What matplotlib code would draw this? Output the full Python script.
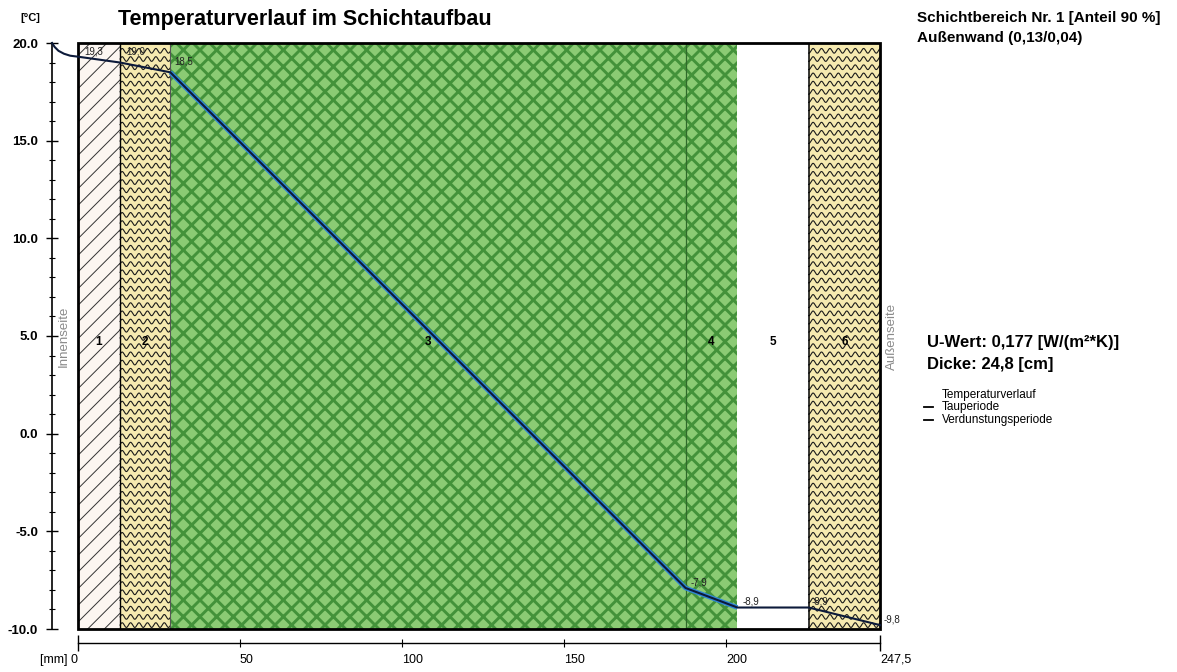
import numpy as np
import matplotlib
matplotlib.use('Agg')
import matplotlib.pyplot as plt
from matplotlib.patches import Rectangle

plt.rcParams['font.family'] = ['Liberation Sans', 'DejaVu Sans']

# layer boundaries [mm] and layer styles
layer_edges = [0, 13, 28.5, 187.5, 203.5, 225.5, 247.5]
layer_names = ['1', '2', '3', '4', '5', '6']
layer_kind = ['diag', 'wave', 'green', 'green', 'empty', 'wave']

# temperature curve [mm] / [°C]
curve_x = [-8.0, -7.2, -6.0, -4.3, -2.4, 0, 13, 28.5, 187.5, 203.5, 225.5, 247.5]
curve_t = [20.0, 19.8, 19.6, 19.45, 19.35, 19.3, 19.0, 18.5, -7.9, -8.9, -8.9, -9.8]

# labels at the layer boundaries
temp_label_x = [2.0, 14.8, 29.8, 189.0, 205.0, 226.5, 248.5]
temp_label_y = [19.55, 19.55, 19.05, -7.6, -8.6, -8.6, -9.5]
temp_label_txt = ['19,3', '19,0', '18,5', '-7,9', '-8,9', '-8,9', '-9,8']

yticks = [-10, -5, 0, 5, 10, 15, 20]
ytick_labels = ['-10.0', '-5.0', '0.0', '5.0', '10.0', '15.0', '20.0']
xticks_minor = [50, 100, 150, 200]


fig = plt.figure(figsize=(11.77, 6.72), dpi=100)
ax = fig.add_axes([52 / 1177, 1 - 629 / 672, 828 / 1177, 586 / 672])
ax.set_xlim(-8.0, 247.5)
ax.set_ylim(-10, 20)

for i in range(len(layer_names)):
    x0, x1 = layer_edges[i], layer_edges[i + 1]
    kind = layer_kind[i]
    if kind == 'diag':
        with plt.rc_context({'hatch.linewidth': 0.7}):
            ax.add_patch(Rectangle((x0, -10), x1 - x0, 30, facecolor='#fcf6f1',
                                   edgecolor='#333333', hatch='//', lw=0, zorder=1))
    elif kind == 'wave':
        ax.add_patch(Rectangle((x0, -10), x1 - x0, 30, facecolor='#f6eab0',
                               lw=0, zorder=1))
        xs = np.linspace(x0, x1, 300)
        for yr in np.arange(-9.8, 20, 0.42):
            ax.plot(xs, yr + 0.12 * np.sin(xs / 2.6 * 2 * np.pi), color='#1a1a1a',
                    lw=0.8, zorder=2, clip_on=True)
    elif kind == 'green':
        with plt.rc_context({'hatch.linewidth': 2.1}):
            ax.add_patch(Rectangle((x0, -10), x1 - x0, 30, facecolor='#8bcb74',
                                   edgecolor='#43923a', hatch='xx', lw=0, zorder=1))
    ax.text((x0 + x1) / 2, 4.7, layer_names[i], ha='center', va='center',
            fontsize=8.5, fontweight='bold', zorder=5)

# boundaries between layers
ax.plot([13, 13], [-10, 20], color='black', lw=1, zorder=3)
ax.plot([28.5, 28.5], [-10, 20], color='#555555', lw=0.8, zorder=3)
ax.plot([187.5, 187.5], [-10, 20], color='#2f6a2a', lw=0.9, zorder=3)
ax.plot([225.5, 225.5], [-10, 20], color='black', lw=1.1, zorder=3)
ax.add_patch(Rectangle((0, -10), 247.5, 30, fill=False, edgecolor='black',
                       lw=2, zorder=6, clip_on=False))

# temperature curve
ax.plot(curve_x[7:10], curve_t[7:10], color='#2f86d6', lw=3.4, zorder=7,
        solid_capstyle='butt')
ax.plot(curve_x, curve_t, color='#0c1a3a', lw=1.5, zorder=8, clip_on=False)

for x, y, t in zip(temp_label_x, temp_label_y, temp_label_txt):
    ax.text(x, y, t, fontsize=7, ha='left', va='center', zorder=9, color='#222222')

ax.text(-4.3, 5.0, 'Innenseite', rotation=90, fontsize=9.5, color='#8a8a8a',
        ha='center', va='center')
ax.text(251.2, 5.0, 'Außenseite', rotation=90, fontsize=9.5, color='#8a8a8a',
        ha='center', va='center', clip_on=False)

# axes
for s in ['top', 'right']:
    ax.spines[s].set_visible(False)
ax.spines['left'].set_bounds(-10, 20)
ax.spines['left'].set_linewidth(1.2)
ax.spines['bottom'].set_position(('outward', 10))
ax.spines['bottom'].set_bounds(0, 247.5)
ax.spines['bottom'].set_linewidth(1.0)

ax.set_yticks(yticks, ytick_labels)
ax.set_yticks(np.arange(-10, 21, 1), minor=True)
ax.tick_params(axis='y', which='major', direction='inout', length=8, width=1,
               labelsize=9.5, pad=6)
ax.tick_params(axis='y', which='minor', direction='inout', length=4, width=0.8)
for lab in ax.get_yticklabels():
    lab.set_fontweight('bold')

ax.set_xticks([0, 247.5], ['[mm] 0', '247,5'])
ax.set_xticks(xticks_minor, [str(v) for v in xticks_minor], minor=True)
ax.tick_params(axis='x', which='major', direction='inout', length=12, width=1,
               labelsize=9, pad=2)
ax.tick_params(axis='x', which='minor', direction='inout', length=6, width=0.8,
               labelsize=9, pad=5)
xl = ax.get_xticklabels()
xl[0].set_ha('right')
xl[1].set_ha('left')
for lab in ax.get_xticklabels(minor=True):
    lab.set_ha('left')

# titles and side texts
fig.text(118 / 1177, 1 - 20 / 672, 'Temperaturverlauf im Schichtaufbau',
         fontsize=15.5, fontweight='bold', va='center')
fig.text(20 / 1177, 1 - 18 / 672, '[°C]', fontsize=8, fontweight='bold', va='center')
fig.text(917 / 1177, 1 - 18 / 672, 'Schichtbereich Nr. 1 [Anteil 90 %]',
         fontsize=11, fontweight='bold', va='center')
fig.text(917 / 1177, 1 - 38 / 672, 'Außenwand (0,13/0,04)',
         fontsize=11, fontweight='bold', va='center')
fig.text(927 / 1177, 1 - 342 / 672, 'U-Wert: 0,177 [W/(m²*K)]',
         fontsize=12, fontweight='bold', va='center')
fig.text(927 / 1177, 1 - 364 / 672, 'Dicke: 24,8 [cm]',
         fontsize=12, fontweight='bold', va='center')

fig.text(942 / 1177, 1 - 395 / 672, 'Temperaturverlauf', fontsize=8.5, va='center')
for yy, name in [(407, 'Tauperiode'), (420, 'Verdunstungsperiode')]:
    fig.add_artist(plt.Line2D([924 / 1177, 933 / 1177], [1 - yy / 672] * 2,
                              color='black', lw=1.3))
    fig.text(942 / 1177, 1 - yy / 672, name, fontsize=8.5, va='center')

fig.savefig('out.png', dpi=100)
